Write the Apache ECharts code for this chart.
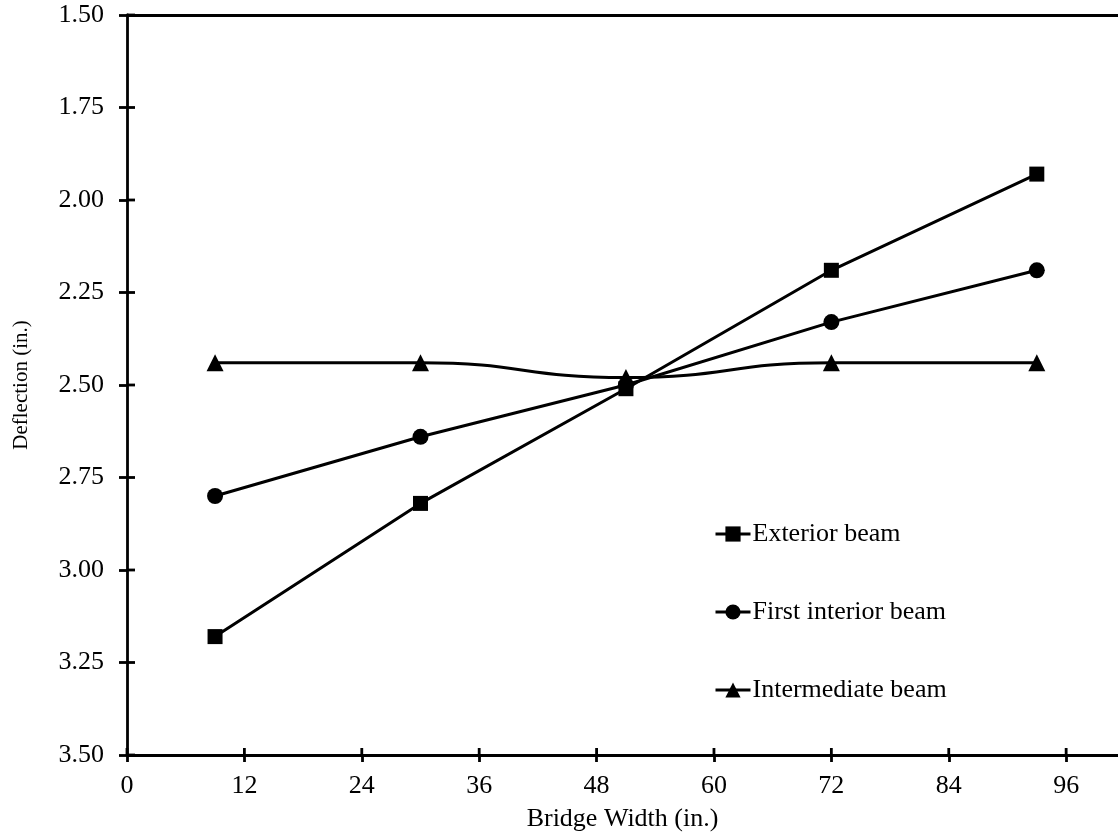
<!DOCTYPE html>
<html>
<head>
<meta charset="utf-8">
<script src="https://cdn.jsdelivr.net/npm/echarts@6/dist/echarts.min.js"></script>
<style>
  html, body { margin: 0; padding: 0; background: #fff; }
  #chart { width: 1118px; height: 838px; }
</style>
</head>
<body>
<div id="chart"></div>
<script>
// Bridge width positions (in.)
const widths = [9, 30, 51, 72, 93];
// Deflection (in.) for each beam
const exteriorBeam = [3.18, 2.82, 2.51, 2.19, 1.93];
const firstInteriorBeam = [2.80, 2.64, 2.50, 2.33, 2.19];
const intermediateBeam = [2.44, 2.44, 2.48, 2.44, 2.44];
const seriesNames = ['Exterior beam', 'First interior beam', 'Intermediate beam'];
// Tick values on each axis
const xTicks = [0, 12, 24, 36, 48, 60, 72, 84, 96];
const yTicks = [1.5, 1.75, 2.0, 2.25, 2.5, 2.75, 3.0, 3.25, 3.5];

const FONT = 'Liberation Serif';
const AX = { color: '#000', width: 2.8 };
const X_MAX = 101.3, Y_MIN = 1.5, Y_MAX = 3.5;
const pairs = ys => widths.map((x, i) => [x, ys[i]]);

const chart = echarts.init(document.getElementById('chart'), null, { renderer: 'canvas' });

const makeSeries = (name, data, symbol, size, smooth) => ({
  name, type: 'line', data: pairs(data), symbol, symbolSize: size,
  smooth: smooth, lineStyle: { color: '#000', width: 3 }, itemStyle: { color: '#000' },
  xAxisIndex: 0, yAxisIndex: 0, z: 3
});

// Inner halves of the tick marks, so each tick crosses its axis line
const innerTicks = {
  type: 'custom', silent: true, clip: false, z: 4,
  data: xTicks.map(v => [v, Y_MAX]).concat(yTicks.map(v => [0, v])),
  renderItem: (params, api) => {
    const isX = params.dataIndex < xTicks.length;
    const p = api.coord([api.value(0), api.value(1)]);
    const shape = isX
      ? { x1: p[0], y1: p[1], x2: p[0], y2: p[1] - 7 }
      : { x1: p[0], y1: p[1], x2: p[0] + 8, y2: p[1] };
    return { type: 'line', shape, style: { stroke: '#000', lineWidth: 2.8 } };
  }
};

chart.setOption({
  animation: false,
  backgroundColor: '#fff',
  grid: { left: 127, top: 15, right: 0, bottom: 83, outerBoundsMode: 'none', containLabel: false },
  legend: {
    orient: 'vertical', left: 709, top: 516, itemGap: 52,
    itemWidth: 35, itemHeight: 19,
    lineStyle: { width: 3 },
    textStyle: { fontFamily: FONT, fontSize: 26, color: '#000', padding: [0, 0, 0, -3] },
    data: seriesNames
  },
  xAxis: [
    {
      type: 'value', min: 0, max: X_MAX, interval: 12, position: 'bottom',
      name: 'Bridge Width (in.)', nameLocation: 'middle', nameGap: 51,
      nameTextStyle: { fontFamily: FONT, fontSize: 26, color: '#000' },
      axisLine: { onZero: false, lineStyle: AX },
      axisTick: { length: 7, lineStyle: AX },
      axisLabel: { fontFamily: FONT, fontSize: 26, color: '#000', margin: 18, showMaxLabel: false },
      splitLine: { show: false }
    },
    {
      // top frame line
      type: 'value', min: 0, max: X_MAX, position: 'top',
      axisLine: { onZero: false, lineStyle: AX },
      axisTick: { show: false }, axisLabel: { show: false }, splitLine: { show: false }
    }
  ],
  yAxis: [
    {
      type: 'value', min: Y_MIN, max: Y_MAX, interval: 0.25, inverse: true, position: 'left',
      name: 'Deflection (in.)', nameLocation: 'middle', nameGap: 95,
      nameTextStyle: { fontFamily: FONT, fontSize: 21, color: '#000' },
      axisLine: { onZero: false, lineStyle: AX },
      axisTick: { length: 8, lineStyle: AX },
      axisLabel: { fontFamily: FONT, fontSize: 26, color: '#000', margin: 23,
                   formatter: v => v.toFixed(2) },
      splitLine: { show: false }
    }
  ],
  series: [
    makeSeries(seriesNames[0], exteriorBeam, 'rect', 15, false),
    makeSeries(seriesNames[1], firstInteriorBeam, 'circle', 16, false),
    makeSeries(seriesNames[2], intermediateBeam, 'triangle', 17, 0.5),
    innerTicks
  ]
});
</script>
</body>
</html>
